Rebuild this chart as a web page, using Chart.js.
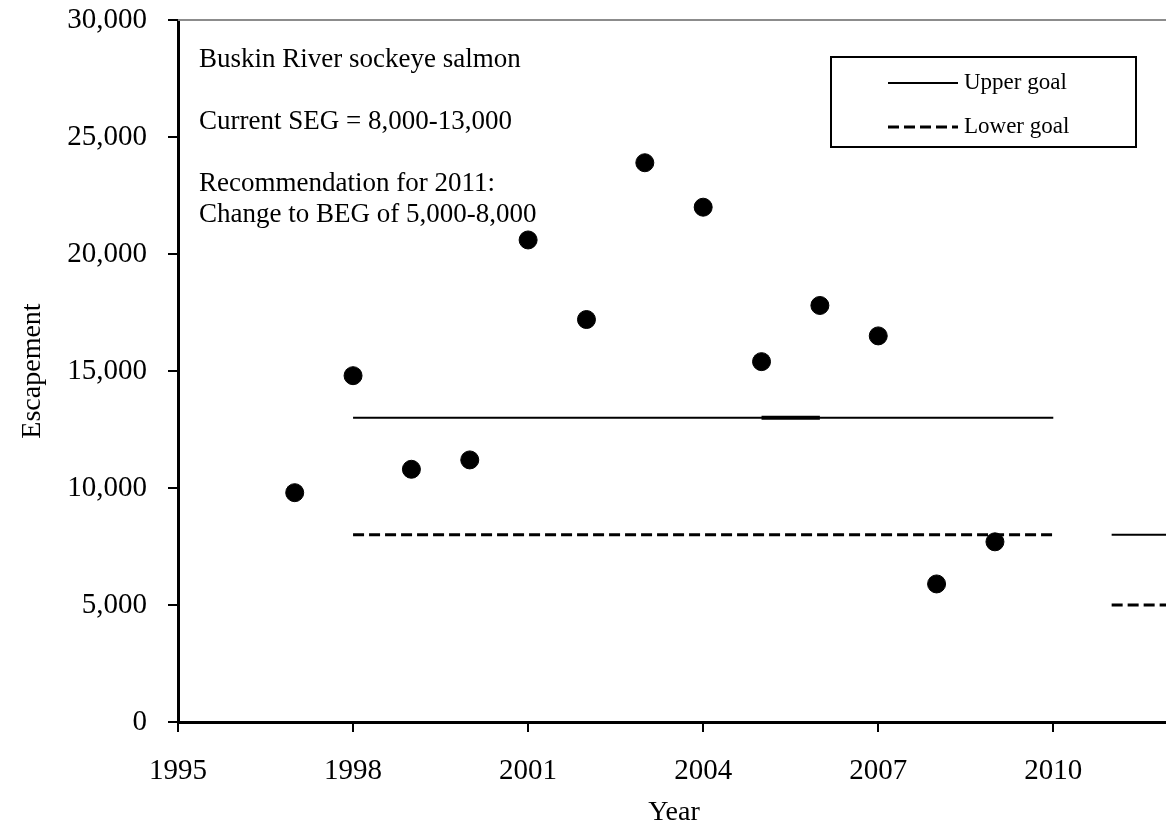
<!DOCTYPE html>
<html>
<head>
<meta charset="utf-8">
<script src="https://cdn.jsdelivr.net/npm/chart.js@4"></script>
<style>
  html, body { margin: 0; padding: 0; background: #fff; overflow: hidden; }
  #wrap { width: 1180px; height: 829px; }
</style>
</head>
<body>
<div id="wrap"><canvas id="escapement-chart"></canvas></div>
<script>
const years = [1997, 1998, 1999, 2000, 2001, 2002, 2003, 2004, 2005, 2006, 2007, 2008, 2009];
const escapement = [9800, 14800, 10800, 11200, 20600, 17200, 23900, 22000, 15400, 17800, 16500, 5900, 7700];

const currentGoalYears = [1998, 2010];
const currentUpper = [13000, 13000];
const currentLower = [8000, 8000];

const markYears = [2005, 2006];
const markUpper = [13000, 13000];

const recGoalYears = [2011, 2012];
const recUpper = [8000, 8000];
const recLower = [5000, 5000];

const noteLines = [
  "Buskin River sockeye salmon",
  "",
  "Current SEG = 8,000-13,000",
  "",
  "Recommendation for 2011:",
  "Change to BEG of 5,000-8,000",
];
const legendLabels = ["Upper goal", "Lower goal"];

const FONT = "'Liberation Serif', 'Times New Roman', serif";

function pts(xs, ys) {
  return xs.map((x, i) => ({ x: x, y: ys[i] }));
}

function goalLine(label, xs, ys, dashed, width) {
  return {
    type: "line",
    label: label,
    data: pts(xs, ys),
    borderColor: "#000",
    borderWidth: width,
    borderDash: dashed ? [11, 5] : [],
    pointRadius: 0,
    showLine: true,
    fill: false,
  };
}

// text box in the upper left + boxed legend + top frame line
const extras = {
  id: "extras",
  afterDraw(chart) {
    const ctx = chart.ctx;
    const area = chart.chartArea;
    ctx.save();

    ctx.strokeStyle = "#8c8c8c";
    ctx.lineWidth = 2;
    ctx.beginPath();
    ctx.moveTo(area.left, area.top);
    ctx.lineTo(chart.width, area.top);
    ctx.stroke();

    ctx.fillStyle = "#000";
    ctx.font = "27px " + FONT;
    ctx.textBaseline = "middle";
    ctx.textAlign = "left";
    noteLines.forEach((t, i) => {
      ctx.fillText(t, 199, 60 + i * 31);
    });

    // legend
    ctx.strokeStyle = "#000";
    ctx.lineWidth = 2;
    ctx.setLineDash([]);
    ctx.strokeRect(831, 57, 305, 90);
    ctx.font = "23px " + FONT;
    const rows = [83, 127];
    rows.forEach((y, i) => {
      ctx.beginPath();
      if (i === 1) {
        ctx.setLineDash([11, 5]);
        ctx.lineWidth = 3;
      } else {
        ctx.setLineDash([]);
        ctx.lineWidth = 2;
      }
      ctx.moveTo(888, y);
      ctx.lineTo(958, y);
      ctx.stroke();
      ctx.fillText(legendLabels[i], 964, y);
    });

    ctx.restore();
  },
};

new Chart(document.getElementById("escapement-chart"), {
  type: "scatter",
  data: {
    datasets: [
      {
        label: "Escapement",
        data: pts(years, escapement),
        backgroundColor: "#000",
        borderColor: "#000",
        pointRadius: 9,
        pointHoverRadius: 9,
      },
      goalLine("Upper goal", currentGoalYears, currentUpper, false, 2),
      goalLine("Lower goal", currentGoalYears, currentLower, true, 3),
      goalLine("Upper goal mark", markYears, markUpper, false, 4),
      goalLine("Recommended upper", recGoalYears, recUpper, false, 2),
      goalLine("Recommended lower", recGoalYears, recLower, true, 3),
    ],
  },
  options: {
    responsive: true,
    maintainAspectRatio: false,
    animation: false,
    layout: { padding: { top: 20, right: 0, left: 0, bottom: 0 } },
    plugins: {
      legend: { display: false },
      tooltip: { enabled: false },
    },
    scales: {
      x: {
        type: "linear",
        min: 1995,
        max: 2012,
        afterFit(scale) {
          scale.height = 107;
          scale.paddingLeft = 0;
          scale.paddingRight = 0;
        },
        ticks: {
          stepSize: 3,
          includeBounds: false,
          color: "#000",
          padding: 22,
          font: { family: FONT, size: 29 },
          callback: (v) => String(v),
        },
        grid: { display: true, drawOnChartArea: false, tickLength: 10, color: "#000", lineWidth: 2 },
        border: { color: "#000", width: 3 },
        title: {
          display: true,
          text: "Year",
          color: "#000",
          font: { family: FONT, size: 28 },
          padding: { top: 0, bottom: 0 },
        },
      },
      y: {
        min: 0,
        max: 30000,
        afterFit(scale) {
          scale.width = 178;
          scale.paddingTop = 0;
          scale.paddingBottom = 0;
        },
        ticks: {
          stepSize: 5000,
          color: "#000",
          padding: 21,
          font: { family: FONT, size: 29 },
          callback: (v) => v.toLocaleString("en-US"),
        },
        grid: { display: true, drawOnChartArea: false, tickLength: 10, color: "#000", lineWidth: 2 },
        border: { color: "#000", width: 3 },
        title: {
          display: true,
          text: "Escapement",
          color: "#000",
          font: { family: FONT, size: 28 },
          padding: { top: 16, bottom: 0 },
        },
      },
    },
  },
  plugins: [extras],
});
</script>
</body>
</html>
